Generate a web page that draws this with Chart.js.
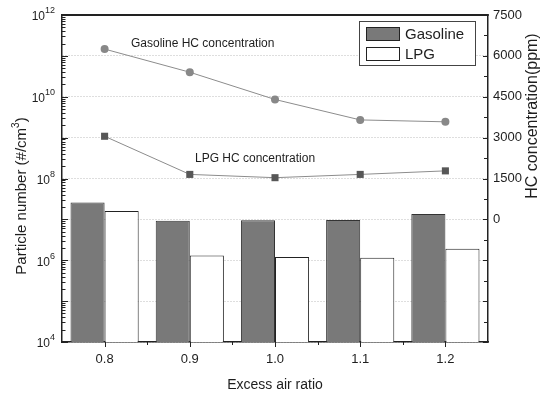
<!DOCTYPE html>
<html>
<head>
<meta charset="utf-8">
<script src="https://cdn.jsdelivr.net/npm/chart.js@4.4.1/dist/chart.umd.min.js"></script>
<style>
html,body{margin:0;padding:0;background:#fff;}
canvas{display:block;}
</style>
</head>
<body>
<canvas id="c" width="542" height="393"></canvas>
<script>
// ---- data ----
const categories = ['0.8', '0.9', '1.0', '1.1', '1.2'];
const gasolinePN = [2.6e7, 9.3e6, 9.5e6, 9.6e6, 1.35e7];
const lpgPN = [1.6e7, 1.3e6, 1.2e6, 1.15e6, 1.9e6];
const gasolineHC = [6250, 5400, 4400, 3650, 3580];
const lpgHC = [3050, 1650, 1530, 1650, 1780];
const leftExponents = [4, 5, 6, 7, 8, 9, 10, 11, 12];
const leftLabelExponents = [4, 6, 8, 10, 12];
const rightTicks = [0, 1500, 3000, 4500, 6000, 7500];

const FONT = "'Liberation Sans', Arial, Helvetica, sans-serif";
const TXT = '#1e1e1e';

const custom = {
  id: 'custom',
  afterDraw(chart) {
    const ctx = chart.ctx;
    const ca = chart.chartArea;
    const xs = chart.scales.x, yl = chart.scales.y, yr = chart.scales.y2;
    ctx.save();
    ctx.strokeStyle = '#222';
    // top frame
    ctx.lineWidth = 2;
    ctx.beginPath();
    ctx.moveTo(ca.left - 0.75, ca.top);
    ctx.lineTo(ca.right + 0.75, ca.top);
    ctx.stroke();
    // ticks
    ctx.lineWidth = 1;
    ctx.beginPath();
    // left major/minor
    for (let e = 4; e < 12; e++) {
      for (let m = 1; m < 10; m++) {
        const v = m * Math.pow(10, e);
        const py = Math.round(yl.getPixelForValue(v)) + 0.5;
        const len = m === 1 ? 6 : 3.5;
        ctx.moveTo(ca.left, py); ctx.lineTo(ca.left + len, py);
      }
    }
    // right major/minor
    for (let v = -4500; v <= 7500; v += 750) {
      const py = Math.round(yr.getPixelForValue(v)) + 0.5;
      const len = (v % 1500 === 0) ? 5 : 4;
      ctx.moveTo(ca.right, py); ctx.lineTo(ca.right - len, py);
    }
    // bottom
    for (let i = 0; i < categories.length; i++) {
      const px = Math.round(xs.getPixelForValue(i)) + 0.5;
      ctx.moveTo(px, ca.bottom); ctx.lineTo(px, ca.bottom + 5);
      if (i < categories.length - 1) {
        const pm = Math.round((xs.getPixelForValue(i) + xs.getPixelForValue(i + 1)) / 2) + 0.5;
        ctx.moveTo(pm, ca.bottom); ctx.lineTo(pm, ca.bottom + 3);
      }
    }
    ctx.stroke();

    // left tick labels with superscripts
    ctx.fillStyle = TXT;
    ctx.textBaseline = 'middle';
    leftLabelExponents.forEach(e => {
      const py = yl.getPixelForValue(Math.pow(10, e));
      ctx.font = '12px ' + FONT;
      const wb = ctx.measureText('10').width;
      ctx.font = '9px ' + FONT;
      const we = ctx.measureText(String(e)).width;
      const xEnd = 55;
      ctx.font = '12px ' + FONT;
      ctx.textAlign = 'left';
      ctx.fillText('10', xEnd - we - wb, py + 2);
      ctx.font = '9px ' + FONT;
      ctx.fillText(String(e), xEnd - we, py - 4);
    });

    // axis titles
    // x title
    ctx.font = '14px ' + FONT;
    ctx.textAlign = 'center';
    ctx.textBaseline = 'alphabetic';
    ctx.fillText('Excess air ratio', (ca.left + ca.right) / 2, 389);

    // left title (rotated)
    ctx.save();
    ctx.translate(22, 196);
    ctx.rotate(-Math.PI / 2);
    ctx.textBaseline = 'middle';
    ctx.font = '15px ' + FONT;
    const p1 = 'Particle number (#/cm', p3 = ')';
    const w1 = ctx.measureText(p1).width, w3 = ctx.measureText(p3).width;
    ctx.font = '10px ' + FONT;
    const w2 = ctx.measureText('3').width;
    const total = w1 + w2 + w3;
    let x0 = -total / 2;
    ctx.textAlign = 'left';
    ctx.font = '15px ' + FONT;
    ctx.fillText(p1, x0, 0);
    ctx.font = '10px ' + FONT;
    ctx.fillText('3', x0 + w1, -6);
    ctx.font = '15px ' + FONT;
    ctx.fillText(p3, x0 + w1 + w2, 0);
    ctx.restore();

    // right title
    ctx.save();
    ctx.translate(533, 116);
    ctx.rotate(-Math.PI / 2);
    ctx.textBaseline = 'middle';
    ctx.textAlign = 'center';
    ctx.font = '16px ' + FONT;
    ctx.fillText('HC concentration(ppm)', 0, 0);
    ctx.restore();

    // annotations
    ctx.font = '12px ' + FONT;
    ctx.textAlign = 'left';
    ctx.textBaseline = 'middle';
    ctx.fillText('Gasoline HC concentration', 131, 44);
    ctx.fillText('LPG HC concentration', 195, 159);

    // legend
    const lx = 359.5, ly = 21.5, lw = 116, lh = 44;
    ctx.fillStyle = '#fff';
    ctx.fillRect(lx, ly, lw, lh);
    ctx.strokeStyle = '#444';
    ctx.lineWidth = 1;
    ctx.strokeRect(lx, ly, lw, lh);
    const ds = chart.data.datasets;
    [[ds[0], 27.5], [ds[1], 47.5]].forEach(([d, y]) => {
      ctx.fillStyle = d.backgroundColor;
      ctx.fillRect(366.5, y, 33, 13);
      ctx.strokeStyle = '#222';
      ctx.strokeRect(366.5, y, 33, 13);
      ctx.fillStyle = TXT;
      ctx.font = '15px ' + FONT;
      ctx.textAlign = 'left';
      ctx.textBaseline = 'middle';
      ctx.fillText(d.label, 405, y + 7);
    });
    ctx.restore();
  }
};

new Chart(document.getElementById('c'), {
  data: {
    labels: categories,
    datasets: [
      { type: 'bar', label: 'Gasoline', data: gasolinePN, yAxisID: 'y',
        backgroundColor: '#797979', borderColor: '#333', borderWidth: 1,
        categoryPercentage: 0.8, barPercentage: 1, order: 2 },
      { type: 'bar', label: 'LPG', data: lpgPN, yAxisID: 'y',
        backgroundColor: '#ffffff', borderColor: '#222', borderWidth: 1,
        categoryPercentage: 0.8, barPercentage: 1, order: 2 },
      { type: 'line', label: 'Gasoline HC concentration', data: gasolineHC, yAxisID: 'y2',
        borderColor: '#8c8c8c', borderWidth: 1, pointStyle: 'circle', pointRadius: 4,
        pointBackgroundColor: '#888', pointBorderColor: '#888', pointBorderWidth: 0, order: 0 },
      { type: 'line', label: 'LPG HC concentration', data: lpgHC, yAxisID: 'y2',
        borderColor: '#8c8c8c', borderWidth: 1, pointStyle: 'rect', pointRadius: 5,
        pointBackgroundColor: '#575757', pointBorderColor: '#575757', pointBorderWidth: 0, order: 0 }
    ]
  },
  options: {
    responsive: false,
    animation: false,
    devicePixelRatio: 1,
    layout: { padding: { top: 15, left: 0, right: 0, bottom: 0 } },
    plugins: { legend: { display: false }, tooltip: { enabled: false } },
    scales: {
      x: {
        type: 'category', offset: true,
        grid: { display: false, drawTicks: false },
        border: { color: '#222', width: 1.5 },
        ticks: { font: { size: 13, family: FONT }, color: TXT, padding: 10, maxRotation: 0 },
        afterFit(s) { s.height = 51; }
      },
      y: {
        type: 'logarithmic', position: 'left', min: 1e4, max: 1e12,
        afterBuildTicks(s) { s.ticks = leftExponents.map(e => ({ value: Math.pow(10, e) })); },
        ticks: { display: false },
        grid: { color: '#bdbdbd', lineWidth: 1, drawTicks: false },
        border: { color: '#222', width: 1.5, dash: [1, 2] },
        afterFit(s) { s.width = 62; }
      },
      y2: {
        type: 'linear', position: 'right', min: -4500, max: 7500,
        afterBuildTicks(s) { s.ticks = [-4500, -3000, -1500].concat(rightTicks).map(v => ({ value: v })); },
        ticks: { font: { size: 13, family: FONT }, color: TXT, padding: 5,
                 callback: v => (v >= 0 ? String(v) : '') },
        grid: { display: false, drawTicks: false },
        border: { color: '#222', width: 1.5 },
        afterFit(s) { s.width = 54; }
      }
    }
  },
  plugins: [custom]
});
</script>
</body>
</html>
